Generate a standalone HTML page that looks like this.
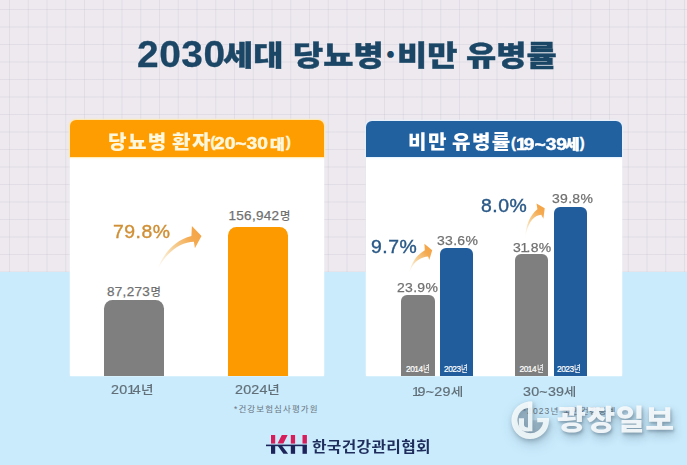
<!DOCTYPE html>
<html lang="ko">
<head>
<meta charset="utf-8">
<style>
*{margin:0;padding:0;box-sizing:border-box;}
html,body{width:687px;height:465px;overflow:hidden;}
body{position:relative;background:#c9ebfc;font-family:"Liberation Sans","Noto Sans CJK KR",sans-serif;}
.top{position:absolute;left:0;top:0;width:687px;height:272px;background-color:#ede9ef;
 background-image:
  linear-gradient(to right, rgba(185,178,195,.22) 1px, transparent 1px),
  linear-gradient(to bottom, rgba(185,178,195,.22) 1px, transparent 1px);
 background-size:18.75px 17.5px;background-position:9px 9px;}
.abs{position:absolute;white-space:nowrap;}
.tn{font-family:"Liberation Sans",sans-serif;font-weight:700;font-size:36px;letter-spacing:0.5px;color:#1b4665;-webkit-text-stroke:0.3px currentColor;line-height:1;transform:scaleX(1.08);transform-origin:0 0;}
.tk{font-family:"Liberation Sans","Noto Sans CJK KR",sans-serif;font-weight:900;font-size:28.3px;letter-spacing:0;color:#1b4665;-webkit-text-stroke:0.4px currentColor;line-height:1;transform:scaleX(1.16);transform-origin:0 0;}
.card{position:absolute;background:#fff;border-radius:6px 6px 0 0;box-shadow:0 0 2px rgba(255,255,255,.9);}
.hdr{position:absolute;left:0;top:0;right:0;height:36px;border-radius:6px 6px 0 0;color:#fff;}
.ht{position:absolute;white-space:nowrap;font-family:"Liberation Sans","Noto Sans CJK KR",sans-serif;font-weight:900;font-size:19px;letter-spacing:1.3px;line-height:1;color:#fff;transform:scaleX(1.06);transform-origin:0 0;}
.hp{position:absolute;white-space:nowrap;font-family:"Liberation Sans",sans-serif;font-weight:700;font-size:14.5px;-webkit-text-stroke:0.4px currentColor;line-height:1;color:#fff;}
.hs{position:absolute;white-space:nowrap;font-family:"Liberation Sans",sans-serif;font-weight:700;font-size:16px;line-height:1;color:#fff;-webkit-text-stroke:0.5px currentColor;transform:scaleX(1.2);transform-origin:0 0;}
.hk{position:absolute;white-space:nowrap;font-family:"Liberation Sans","Noto Sans CJK KR",sans-serif;font-weight:900;font-size:13.3px;line-height:1;color:#fff;-webkit-text-stroke:0.4px currentColor;transform:scaleX(1.2);transform-origin:0 0;}
.bar{position:absolute;bottom:89px;}
.lbl{position:absolute;font-size:13.5px;color:#707070;-webkit-text-stroke:0.25px currentColor;white-space:nowrap;line-height:1;letter-spacing:0.3px;}
.lk{font-family:"Noto Sans CJK KR",sans-serif;font-size:11.3px;font-weight:500;-webkit-text-stroke:0;display:inline-block;position:relative;top:-0.3px;margin-left:0.5px;}
.sx{transform:scaleX(1.035);transform-origin:0 0;}
.n1{letter-spacing:-0.17em;}
.n1b{letter-spacing:-0.12em;margin-left:-0.05em;}
.pct{position:absolute;font-size:19px;font-weight:400;-webkit-text-stroke:0.4px currentColor;white-space:nowrap;line-height:1;letter-spacing:0.5px;transform:scaleX(1.02);transform-origin:0 0;}
.ax{position:absolute;font-size:13.3px;font-weight:400;-webkit-text-stroke:0.2px currentColor;color:#626f78;white-space:nowrap;line-height:1;letter-spacing:0.2px;transform:scaleX(1.075);transform-origin:0 0;}
.ak{font-family:"Noto Sans CJK KR",sans-serif;font-weight:500;-webkit-text-stroke:0;font-size:11.5px;display:inline-block;transform:scaleX(1.1);transform-origin:0 100%;margin-left:0;}
.fn{position:absolute;font-family:"Liberation Sans","Noto Sans CJK KR",sans-serif;font-size:8.5px;color:#6a7480;white-space:nowrap;line-height:1;letter-spacing:1.1px;}
.inb{position:absolute;font-size:8.3px;font-weight:400;-webkit-text-stroke:0.2px currentColor;color:#fff;white-space:nowrap;letter-spacing:-0.45px;line-height:1;}
.ik{font-family:"Noto Sans CJK KR",sans-serif;font-weight:500;-webkit-text-stroke:0;font-size:9.5px;display:inline-block;transform:scaleX(.75);transform-origin:0 100%;margin-left:0.5px;}
svg{position:absolute;left:0;top:0;}
</style>
</head>
<body>
<div class="top"></div>

<div id="t1" class="abs tn" style="left:137.3px;top:37.0px;">2030</div>
<div id="t2" class="abs tk" style="left:223.0px;top:41.6px;">세대</div>
<div id="t3" class="abs tk" style="left:293.1px;top:41.8px;">당뇨병</div>
<div id="t4" class="abs" style="left:385.0px;top:36.7px;font-family:'Noto Sans CJK KR',sans-serif;font-weight:900;font-size:31px;line-height:1;color:#1b4565;">·</div>
<div id="t5" class="abs tk" style="left:397.3px;top:41.8px;">비만</div>
<div id="t6" class="abs tk" style="left:466.3px;top:41.6px;">유병률</div>

<!-- Left card -->
<div class="card" style="left:69.5px;top:120px;width:254.8px;height:256px;">
  <div class="hdr" style="background:#fe9d02;height:37px;box-shadow:0 0 1.5px 0.5px rgba(255,228,160,.9);">
  </div>
</div>

<!-- Right card -->
<div class="card" style="left:366px;top:121px;width:256px;height:255px;">
  <div class="hdr" style="background:#2261a0;height:36px;box-shadow:0 0 1.5px 0.5px rgba(225,240,255,.9);">
  </div>
</div>

<div class="bar" style="left:104.2px;top:299.7px;width:59.6px;background:#7f7f7f;border-radius:8.5px 8.5px 0 0;"></div>
<div class="bar" style="left:228.4px;top:226.5px;width:59.5px;background:#fd9a00;border-radius:8.5px 8.5px 0 0;"></div>
<div class="bar" style="left:401.2px;top:294.8px;width:33.6px;background:#7f7f7f;border-radius:6px 6px 0 0;"></div>
<div class="bar" style="left:440.2px;top:247.9px;width:32.7px;background:#215d9c;border-radius:6px 6px 0 0;"></div>
<div class="bar" style="left:515.2px;top:254px;width:32.8px;background:#7f7f7f;border-radius:6px 6px 0 0;"></div>
<div class="bar" style="left:553.8px;top:207px;width:33px;background:#215d9c;border-radius:6px 6px 0 0;"></div>
<div id="h1a" class="ht" style="left:108.2px;top:133.3px;color:#fff7dc;">당뇨병</div>
<div id="h1b" class="ht" style="left:171.9px;top:133.3px;color:#fff7dc;">환자</div>
<div id="h1c" class="hp" style="left:210.6px;top:135.3px;color:#fff7dc;">(</div>
<div id="h1d" class="hs" style="left:214.2px;top:135.9px;color:#fff7dc;">20~30</div>
<div id="h1e" class="hk" style="left:270.3px;top:137.9px;color:#fff7dc;">대</div>
<div id="h1f" class="hp" style="left:285.9px;top:134.5px;color:#fff7dc;">)</div>
<div id="h2a" class="ht" style="left:407.8px;top:133.1px;">비만</div>
<div id="h2b" class="ht" style="left:452.4px;top:133.1px;">유병률</div>
<div id="h2c" class="hp" style="left:511.1px;top:136.0px;">(</div>
<div id="h2d" class="hs" style="left:515.6px;top:136.6px;"><span style="letter-spacing:-0.15em">1</span>9~39</div>
<div id="h2e" class="hk" style="left:564.8px;top:137.5px;">세</div>
<div id="h2f" class="hp" style="left:579.8px;top:136.0px;">)</div>
<svg width="687" height="465" viewBox="0 0 687 465">
<defs>
<linearGradient id="ag0" gradientUnits="userSpaceOnUse" x1="158" y1="268.4" x2="201.5" y2="236.1"><stop offset="0" stop-color="#f5dca8" stop-opacity=".15"/><stop offset=".45" stop-color="#f4c47c" stop-opacity=".8"/><stop offset=".8" stop-color="#f4ab52"/><stop offset="1" stop-color="#f5a445"/></linearGradient>
<linearGradient id="ag1" gradientUnits="userSpaceOnUse" x1="409.3" y1="272.3" x2="432.2" y2="250.3"><stop offset="0" stop-color="#f5dca8" stop-opacity=".15"/><stop offset=".45" stop-color="#f4c47c" stop-opacity=".8"/><stop offset=".8" stop-color="#f4ab52"/><stop offset="1" stop-color="#f5a445"/></linearGradient>
<linearGradient id="ag2" gradientUnits="userSpaceOnUse" x1="525.3" y1="235.9" x2="544.7" y2="208.3"><stop offset="0" stop-color="#f5dca8" stop-opacity=".15"/><stop offset=".45" stop-color="#f4c47c" stop-opacity=".8"/><stop offset=".8" stop-color="#f4ab52"/><stop offset="1" stop-color="#f5a445"/></linearGradient>
</defs>
<path d="M158 268.4 C163 254 175 240 191.4 236.1 L191.9 226 L201.5 236.1 L194.9 248.2 L193.9 241.7 C182 242 168 250 158 268.4 Z" fill="url(#ag0)"/>
<path d="M409.3 272.3 C411.5 263 416 255.5 424.8 250.3 L424.4 243.7 L432.2 250.3 L429.3 260.1 L428.1 256.4 C422 257 414 260 409.3 272.3 Z" fill="url(#ag1)"/>
<path d="M525.3 235.9 C526 226 529.5 215.5 537.4 209.2 L536.5 203.6 L544.7 208.3 L543.4 218.7 L541.2 214.8 C535 215.5 529 220 525.3 235.9 Z" fill="url(#ag2)"/>

<!-- KH logo -->
<g>
<rect x="271" y="435" width="4.2" height="8.6" fill="#d81d5b"/>
<polygon points="277.6,443.6 283.4,443.6 287.6,435 281.8,435" fill="#d81d5b"/>
<rect x="290.8" y="435" width="4.3" height="8.6" fill="#d81d5b"/>
<rect x="302.5" y="435" width="4.4" height="8.6" fill="#d81d5b"/>
<rect x="271" y="445.4" width="4.2" height="8.4" fill="#1d2459"/>
<polygon points="277.6,445.4 281.8,445.4 288.1,453.8 283.4,453.8" fill="#1d2459"/>
<rect x="290.8" y="445.4" width="4.3" height="8.4" fill="#1d2459"/>
<rect x="302.5" y="445.4" width="4.4" height="8.4" fill="#1d2459"/>
<rect x="266" y="444.6" width="40.9" height="1.6" fill="#1d2459"/>
</g>
</svg>

<div id="l1" class="lbl" style="left:107.0px;top:285.0px;">87,273<span class="lk">명</span></div>
<div id="l2" class="lbl" style="left:228.5px;top:209.0px;">156,942<span class="lk">명</span></div>
<div id="p1" class="pct" style="left:112.8px;top:222.0px;color:#d08f35;">79.8%</div>

<div id="l3" class="lbl sx" style="left:397.0px;top:281.0px;">23.9%</div>
<div id="l4" class="lbl sx" style="left:437.0px;top:234.0px;">33.6%</div>
<div id="l5" class="lbl sx" style="left:512.5px;top:240.5px;">3<span class="n1b">1</span>.8%</div>
<div id="l6" class="lbl sx" style="left:552.0px;top:192.0px;">39.8%</div>
<div id="p2" class="pct" style="left:371.2px;top:236.6px;color:#295886;">9.7%</div>
<div id="p3" class="pct" style="left:481.4px;top:195.6px;color:#295886;">8.0%</div>
<div id="b1" class="inb" style="left:406.0px;top:363.5px;">2014<span class="ik">년</span></div>
<div id="b2" class="inb" style="left:444.0px;top:363.5px;">2023<span class="ik">년</span></div>
<div id="b3" class="inb" style="left:519.5px;top:363.5px;">2014<span class="ik">년</span></div>
<div id="b4" class="inb" style="left:557.0px;top:363.5px;">2023<span class="ik">년</span></div>

<!-- axis labels -->
<div id="a1" class="ax" style="left:111.4px;top:382.8px;">20<span class="n1">1</span>4<span class="ak">년</span></div>
<div id="a2" class="ax" style="left:234.8px;top:382.8px;">2024<span class="ak">년</span></div>
<div id="a3" class="ax" style="left:411.6px;top:384.8px;"><span class="n1">1</span>9~29<span class="ak">세</span></div>
<div id="a4" class="ax" style="left:523.0px;top:385.0px;">30~39<span class="ak">세</span></div>
<div id="f1" class="fn" style="left:234.0px;top:405.0px;">*건강보험심사평가원</div>
<div id="f2" class="fn" style="left:522.7px;top:406.6px;">*2023년 국민건강통계</div>

<!-- watermark -->
<svg width="687" height="465" viewBox="0 0 687 465" style="filter:drop-shadow(1px 2px 2px rgba(40,60,80,.3)) drop-shadow(2px 4px 6px rgba(40,60,80,.25));">
<path d="M530.2 420.3 L543.7 420.3 A13.5 13.5 0 1 1 530.2 406.8 Z" fill="#6f8794" fill-opacity=".32"/>
<g fill="#f2f8fb" fill-opacity=".92">
<path d="M549 420.3 A18.8 18.8 0 1 1 531.9 401.6 L531.9 407.5 A12.9 12.9 0 1 0 543.1 422.3 L537.2 422.3 L537.2 417.9 L549 417.9 Z"/>
<path d="M528 401.6 L532.4 401.6 L532.4 431.3 L528 431.3 Z"/>
<path d="M518.8 418.2 L524 418.2 L524 424.5 Q524 427.3 528 427.5 L528.5 431.6 Q518.8 431.6 518.8 424.5 Z"/>
</g>
</svg>
<div id="wm" class="abs" style="left:556.6px;top:403.6px;font-family:'Noto Sans CJK KR',sans-serif;font-weight:900;font-size:28.5px;letter-spacing:0.5px;color:rgba(246,250,252,.93);line-height:1;transform:scaleX(1.1);transform-origin:0 0;text-shadow:1px 2px 3px rgba(40,60,80,.35),2px 5px 9px rgba(40,60,80,.3);">광장일보</div>

<!-- bottom logo -->
<div id="org" class="abs" style="left:312.0px;top:439.0px;font-family:'Noto Sans CJK KR',sans-serif;font-size:14.5px;font-weight:700;color:#1f2d5c;line-height:1;letter-spacing:0.3px;transform:scaleX(1.09);transform-origin:0 0;">한국건강관리협회</div>
</body>
</html>
